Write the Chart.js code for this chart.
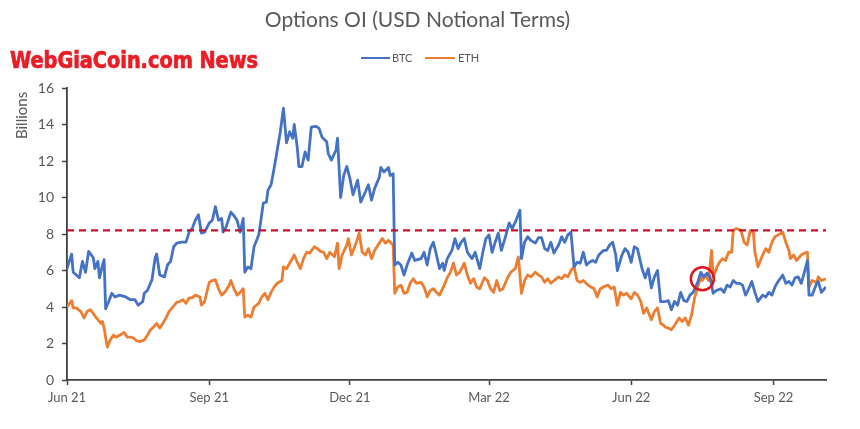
<!DOCTYPE html>
<html><head><meta charset="utf-8">
<script src="https://cdn.jsdelivr.net/npm/chart.js@4.4.1/dist/chart.umd.min.js"></script>
<style>
html,body{margin:0;padding:0;background:#fff;}
#wrap{position:relative;width:860px;height:429px;overflow:hidden;background:#fff;}
#c{position:absolute;left:0;top:0;}
.t{position:absolute;white-space:nowrap;font-family:Lato,"Open Sans",sans-serif;color:#595959;line-height:1;}
.ln{position:absolute;height:2px;}
#wm{position:absolute;left:10px;top:49px;white-space:nowrap;font-family:"DejaVu Sans Condensed","DejaVu Sans",sans-serif;font-stretch:condensed;font-weight:bold;font-size:23px;color:#ec1c24;-webkit-text-stroke:0.7px #ec1c24;line-height:1;transform-origin:0 0;}
</style></head><body>
<div id="wrap">
<canvas id="c" width="860" height="429"></canvas>
<div class="t" id="title" style="left:0;width:835px;text-align:center;top:8px;font-size:21px;">Options OI (USD Notional Terms)</div>
<div class="ln" style="left:361px;top:57px;width:29px;background:#4472C4;"></div>
<div class="t" style="left:392px;top:52px;font-size:11px;">BTC</div>
<div class="ln" style="left:425px;top:57px;width:30px;background:#ED7D31;"></div>
<div class="t" style="left:458px;top:52px;font-size:11px;">ETH</div>
<div id="wm">WebGiaCoin.com News</div>
</div>
<script>
// Days since 1 Jun 2021
const tickDays = [0, 92, 183, 273, 365, 457];
const tickLabels = ['Jun 21', 'Sep 21', 'Dec 21', 'Mar 22', 'Jun 22', 'Sep 22'];
const lastDay = 491;
const thresholdValue = 8.2;
const highlight = { day: 411, value: 5.55 };

const btcDays = [0,3,4,8,10,12,14,17,18,20,21,23,24,25,27,29,31,34,38,41,44,46,49,50,52,55,57,58,60,63,65,67,69,71,74,77,79,81,83,85,87,89,92,94,96,98,100,101,103,106,108,110,112,114,115,117,119,121,124,125,127,129,130,132,134,136,138,140,142,144,146,147,149,150,152,154,156,158,161,163,165,168,169,171,174,175,177,179,181,183,185,188,190,193,195,197,199,202,203,205,208,209,211,212,214,216,218,220,223,225,229,231,233,235,237,239,241,243,244,246,249,251,253,255,257,259,262,264,267,269,271,273,275,277,279,281,284,286,288,290,293,294,296,298,300,303,305,307,309,311,313,315,318,320,322,324,326,328,330,332,334,336,338,340,342,344,347,349,351,353,355,356,359,361,363,365,367,369,372,374,376,378,380,382,384,387,389,391,393,395,397,399,401,403,405,408,410,412,414,416,418,420,423,425,427,429,431,433,435,437,439,441,443,445,447,450,452,454,456,458,460,463,465,467,469,471,473,475,477,479,480,482,485,486,488,490,491];
const btcValues = [6.1,6.9,5.9,5.6,6.5,5.9,7.05,6.7,6.1,6.5,5.6,6.3,6.6,3.9,4.3,4.75,4.55,4.65,4.55,4.4,4.4,4.1,4.3,4.75,4.9,5.5,6.7,6.9,5.75,5.65,6.3,6.5,7.3,7.5,7.55,7.55,8.1,8.3,8.75,9.05,8.05,8.1,8.6,8.75,9.5,8.75,8.85,8.1,8.4,9.2,9.0,8.75,8.1,8.85,5.9,6.2,6.1,7.3,7.95,8.5,9.7,9.75,10.4,10.7,11.6,12.6,13.6,14.9,13.0,13.6,13.25,14.0,12.7,11.7,11.7,12.5,12.05,13.85,13.9,13.8,13.3,13.05,12.4,12.05,12.6,13.25,10.0,11.2,11.7,11.05,10.15,10.95,9.75,10.3,10.7,9.85,10.5,11.1,11.65,11.4,11.65,11.2,11.3,6.3,6.45,6.3,5.75,6.3,6.95,6.55,6.65,7.0,6.3,7.2,7.55,6.85,6.1,6.4,6.0,6.65,7.1,7.75,7.2,7.55,7.75,7.0,6.65,7.0,6.1,7.0,7.75,7.95,7.0,7.55,8.05,7.1,7.95,8.6,8.3,8.65,9.3,6.65,7.55,7.85,7.65,7.5,7.8,7.8,7.2,7.1,7.55,6.95,7.4,7.85,7.55,7.95,8.1,6.2,6.45,6.4,7.0,6.3,6.45,6.55,6.45,6.85,7.1,7.1,7.4,7.55,6.85,6.0,6.85,7.2,7.0,6.45,7.3,7.2,6.1,5.6,6.1,5.05,5.65,6.0,4.3,4.3,4.35,3.85,4.3,4.1,4.8,4.35,4.3,4.65,4.8,5.35,5.9,5.65,5.85,5.65,4.75,4.9,5.0,4.8,5.2,5.1,5.45,5.3,5.3,5.2,4.65,5.0,5.4,4.8,4.3,4.65,4.55,4.8,4.65,5.1,5.4,5.75,5.3,5.4,5.2,5.6,5.65,5.3,5.9,6.55,4.65,4.65,5.3,5.4,4.8,5.0,5.1];

const ethDays = [0,3,4,6,9,11,13,15,17,19,22,23,24,26,28,30,32,34,37,39,41,43,45,47,50,52,54,56,58,60,62,64,66,68,71,73,75,77,79,81,83,86,87,89,92,94,96,98,100,102,105,106,108,110,112,114,115,117,119,121,124,126,128,130,132,134,136,139,140,142,144,147,149,151,153,155,157,160,162,164,166,168,170,173,175,176,178,181,182,184,187,189,191,193,195,197,199,202,204,206,208,211,212,214,216,218,220,222,224,226,229,231,233,235,237,239,241,244,246,248,250,252,254,257,259,261,263,265,267,270,272,274,276,278,280,282,285,287,290,292,294,296,298,300,303,305,307,309,311,313,315,318,320,322,324,326,328,330,332,334,337,339,341,343,345,347,350,352,354,356,358,360,362,365,367,369,371,373,375,378,380,382,384,386,387,389,391,393,396,398,400,402,404,406,408,410,411,413,415,417,418,420,422,424,426,428,430,431,433,436,438,440,442,444,445,447,450,452,454,456,458,460,463,465,467,468,470,472,475,477,479,480,482,485,486,488,491];
const ethValues = [4.0,4.35,3.95,3.95,3.75,3.4,3.75,3.85,3.65,3.4,3.1,3.2,2.85,1.8,2.2,2.45,2.35,2.45,2.6,2.35,2.35,2.3,2.15,2.1,2.2,2.45,2.75,2.9,3.1,2.85,3.1,3.4,3.75,3.95,4.25,4.3,4.4,4.2,4.5,4.5,4.65,4.55,4.1,4.3,5.35,5.45,5.5,5.0,4.65,4.8,5.2,5.45,5.0,4.65,4.8,5.0,3.45,3.55,3.45,4.0,4.2,4.55,4.75,4.4,4.8,5.1,5.3,5.45,6.2,6.1,6.4,6.85,6.45,6.1,6.65,7.0,6.95,7.3,7.2,7.05,7.0,6.65,7.0,6.75,7.5,6.1,6.85,7.4,7.75,6.85,7.5,8.05,7.0,6.85,7.2,6.65,7.1,7.5,7.75,7.5,7.65,7.4,4.75,5.1,5.2,4.75,4.8,5.3,5.55,5.3,5.35,5.1,4.55,4.9,5.0,4.8,4.65,5.2,5.6,5.9,6.4,5.75,5.9,6.4,5.75,5.3,5.55,5.1,5.0,5.6,5.45,5.0,4.8,5.45,4.9,5.0,5.6,5.9,6.1,6.75,4.75,5.45,5.75,5.65,5.9,5.75,5.65,5.35,5.55,5.3,5.45,5.65,5.55,5.75,5.65,6.0,6.2,5.45,5.35,5.45,5.2,5.1,5.0,4.55,5.0,5.1,5.2,5.0,5.1,4.1,4.8,4.65,4.75,4.45,4.8,4.65,4.35,3.65,3.95,3.3,3.75,3.95,3.1,3.0,2.9,2.85,2.75,3.0,3.4,3.2,3.4,3.0,3.55,4.5,5.1,5.65,5.45,5.75,5.45,7.1,5.65,6.1,6.45,6.65,6.55,7.0,7.0,8.2,8.3,8.2,7.55,7.4,8.2,8.1,7.0,6.2,6.85,7.2,7.0,7.55,7.85,7.95,8.1,7.55,7.1,6.65,6.85,6.55,6.85,6.95,7.0,5.1,5.45,5.35,5.65,5.45,5.55];

const pts = (xs, ys) => xs.map((x, i) => ({ x: x, y: ys[i] }));

const circlePlugin = {
  id: 'circle',
  afterDatasetsDraw(chart) {
    const { ctx, scales } = chart;
    const cx = scales.x.getPixelForValue(highlight.day);
    const cy = scales.y.getPixelForValue(highlight.value);
    ctx.save();
    ctx.beginPath();
    ctx.arc(cx, cy, 11.5, 0, Math.PI * 2);
    ctx.strokeStyle = '#E0141E';
    ctx.lineWidth = 2.5;
    ctx.stroke();
    ctx.restore();
  }
};

const axisColor = '#404040';
const textColor = '#595959';
const fontFam = 'Lato, "Open Sans", sans-serif';

new Chart(document.getElementById('c'), {
  type: 'line',
  data: {
    datasets: [
      { label: 'Threshold', data: [{ x: 0, y: thresholdValue }, { x: lastDay, y: thresholdValue }],
        borderColor: '#C8102E', borderWidth: 2.2, borderDash: [7, 5], pointRadius: 0, fill: false, order: 0 },
      { label: 'ETH', data: pts(ethDays, ethValues), borderColor: '#ED7D31', borderWidth: 2.8,
        pointRadius: 0, tension: 0, fill: false, borderJoinStyle: 'round', order: 2 },
      { label: 'BTC', data: pts(btcDays, btcValues), borderColor: '#4472C4', borderWidth: 2.8,
        pointRadius: 0, tension: 0, fill: false, borderJoinStyle: 'round', order: 1 }
    ]
  },
  options: {
    responsive: false,
    animation: false,
    devicePixelRatio: 1,
    events: [],
    layout: { padding: { left: 0, right: 34, top: 88, bottom: 0 } },
    plugins: { legend: { display: false }, title: { display: false }, tooltip: { enabled: false } },
    scales: {
      x: {
        type: 'linear', min: 0, max: lastDay,
        afterBuildTicks: (s) => { s.ticks = tickDays.map(v => ({ value: v })); },
        afterFit: (s) => { s.height = 49; },
        ticks: {
          autoSkip: false, maxRotation: 0, padding: 5, color: textColor,
          font: { family: fontFam, size: 13 },
          callback: (v) => { const i = tickDays.indexOf(v); return i >= 0 ? tickLabels[i] : ''; }
        },
        grid: { display: true, drawOnChartArea: false, drawTicks: true, tickLength: 5, tickColor: axisColor, tickWidth: 1.5 },
        border: { display: true, color: axisColor, width: 1.8 }
      },
      y: {
        min: 0, max: 16,
        afterFit: (s) => { s.width = 67; },
        ticks: { stepSize: 2, padding: 8, color: textColor, font: { family: fontFam, size: 14 } },
        grid: { display: true, drawOnChartArea: false, drawTicks: true, tickLength: 5, tickColor: axisColor, tickWidth: 1.5 },
        border: { display: true, color: axisColor, width: 1.8 },
        title: { display: true, text: 'Billions ', align: 'end', color: textColor,
                 font: { family: fontFam, size: 15 }, padding: { top: 13, bottom: 0 } }
      }
    }
  },
  plugins: [circlePlugin]
});

// fit the watermark text to its width
const wm = document.getElementById('wm');
const w = wm.getBoundingClientRect().width;
wm.style.transform = 'scaleX(' + (248 / w) + ')';
</script>
</body></html>
